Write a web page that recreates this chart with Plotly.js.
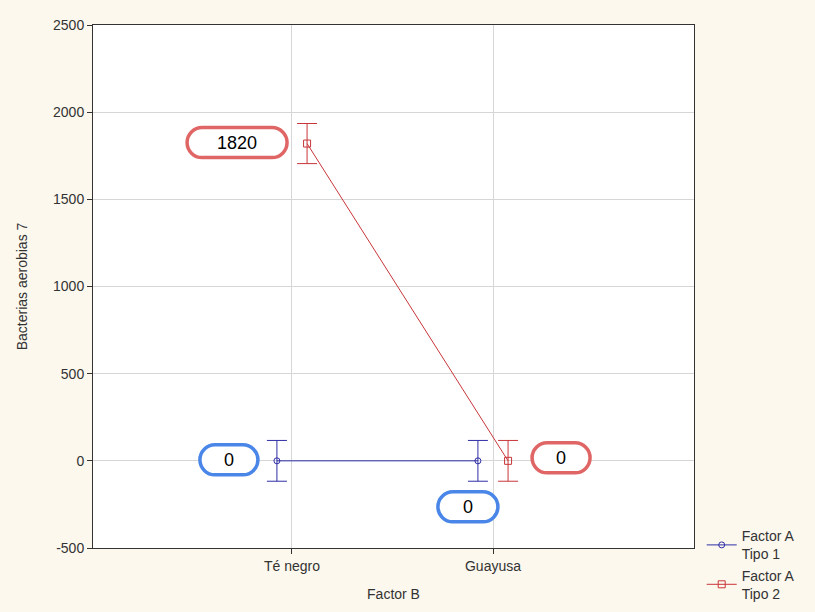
<!DOCTYPE html>
<html>
<head>
<meta charset="utf-8">
<script src="https://cdn.plot.ly/plotly-3.0.1.min.js"></script>
<style>html,body{margin:0;padding:0;background:#FCF8EE;}</style>
</head>
<body>
<div id="chart" style="width:815px;height:612px;"></div>
<script>
// Data
const categories = ["Té negro", "Guayusa"];
const tipo1Values = [0, 0];
const tipo1Errors = [117, 117];
const tipo2Values = [1820, 0];
const tipo2Errors = [115, 117];
const seriesNames = ["Factor A<br>Tipo 1", "Factor A<br>Tipo 2"];
const yTickVals = [-500, 0, 500, 1000, 1500, 2000, 2500];
const yTickText = ["-500", "0", "500", "1000", "1500", "2000", "2500"];

const idx = categories.map((c, i) => i);
const off = 0.075;
const blue = "#2E2EA6";
const red = "#C8363A";

const traces = [
  {
    x: idx.map(i => i - off), y: tipo1Values, name: seriesNames[0],
    type: "scatter", mode: "lines+markers",
    line: {color: blue, width: 1},
    marker: {symbol: "circle-open", size: 6, color: blue, line: {width: 1}},
    error_y: {type: "data", array: tipo1Errors, visible: true, color: blue, thickness: 1, width: 10},
    hoverinfo: "skip"
  },
  {
    x: idx.map(i => i + off), y: tipo2Values, name: seriesNames[1],
    type: "scatter", mode: "lines+markers",
    line: {color: red, width: 1},
    marker: {symbol: "square-open", size: 7, color: red, line: {width: 1}},
    error_y: {type: "data", array: tipo2Errors, visible: true, color: red, thickness: 1, width: 10},
    hoverinfo: "skip"
  }
];

function stadium(cx, cy, w, h) {
  const r = h / 2, k = 0.5523 * r;
  const xl = cx - w / 2 + r, xr = cx + w / 2 - r;
  const yt = cy + r, yb = cy - r;
  return `M ${xl},${yt} L ${xr},${yt} ` +
    `C ${xr + k},${yt} ${xr + r},${cy + k} ${xr + r},${cy} ` +
    `C ${xr + r},${cy - k} ${xr + k},${yb} ${xr},${yb} ` +
    `L ${xl},${yb} ` +
    `C ${xl - k},${yb} ${xl - r},${cy - k} ${xl - r},${cy} ` +
    `C ${xl - r},${cy + k} ${xl - k},${yt} ${xl},${yt} Z`;
}

// label boxes: [x, y, dx(px), dy(px, up positive), width, color, text]
const boxBlue = "#4A86E8", boxRed = "#E06666";
const labels = [
  [idx[0] + off, tipo2Values[0], -70, 1, 100, boxRed, String(tipo2Values[0])],
  [idx[0] - off, tipo1Values[0], -48, 1, 58, boxBlue, String(tipo1Values[0])],
  [idx[1] + off, tipo2Values[1], 53, 3, 58, boxRed, String(tipo2Values[1])],
  [idx[1] - off, tipo1Values[1], -10, -46, 60, boxBlue, String(tipo1Values[1])]
];

const shapes = [], annotations = [];
labels.forEach(l => {
  shapes.push({
    type: "path", xref: "x", yref: "y", xsizemode: "pixel", ysizemode: "pixel",
    xanchor: l[0], yanchor: l[1],
    path: stadium(l[2], l[3], l[4], 30),
    line: {color: l[5], width: 3.5}, fillcolor: "rgba(255,255,255,1)", layer: "above"
  });
  annotations.push({
    x: l[0], y: l[1], xref: "x", yref: "y", text: l[6], showarrow: false,
    xshift: l[2], yshift: l[3], font: {family: "Liberation Sans, Arial, sans-serif", size: 18, color: "#000"}
  });
});

const layout = {
  width: 815, height: 612,
  paper_bgcolor: "#FCF8EE", plot_bgcolor: "#FFFFFF",
  margin: {l: 93, r: 121, t: 25, b: 64},
  font: {family: "Liberation Sans, Arial, sans-serif", size: 14, color: "#333"},
  showlegend: true,
  legend: {xref: "container", yref: "container", x: 0.861, xanchor: "left", y: 0.15, yanchor: "top",
           bgcolor: "rgba(0,0,0,0)", font: {size: 14, color: "#333"}, tracegroupgap: 0, itemwidth: 30},
  xaxis: {
    range: [-0.99, 2], tickvals: idx, ticktext: categories, automargin: false,
    showgrid: true, gridcolor: "#D6D6D6", gridwidth: 1, zeroline: false,
    showline: true, mirror: true, linecolor: "#333", linewidth: 1,
    ticks: "outside", ticklen: 5, tickcolor: "#333",
    title: {text: "Factor B", font: {size: 14}, standoff: 16}
  },
  yaxis: {
    range: [-500, 2500], tickvals: yTickVals, ticktext: yTickText, automargin: false,
    showgrid: true, gridcolor: "#D6D6D6", gridwidth: 1, zeroline: false,
    showline: true, mirror: true, linecolor: "#333", linewidth: 1,
    ticks: "outside", ticklen: 5, tickcolor: "#333",
    title: {text: "Bacterias aerobias 7", font: {size: 14}, standoff: 22}
  },
  shapes: shapes, annotations: annotations
};

Plotly.newPlot("chart", traces, layout, {displayModeBar: false, staticPlot: true});
</script>
</body>
</html>
